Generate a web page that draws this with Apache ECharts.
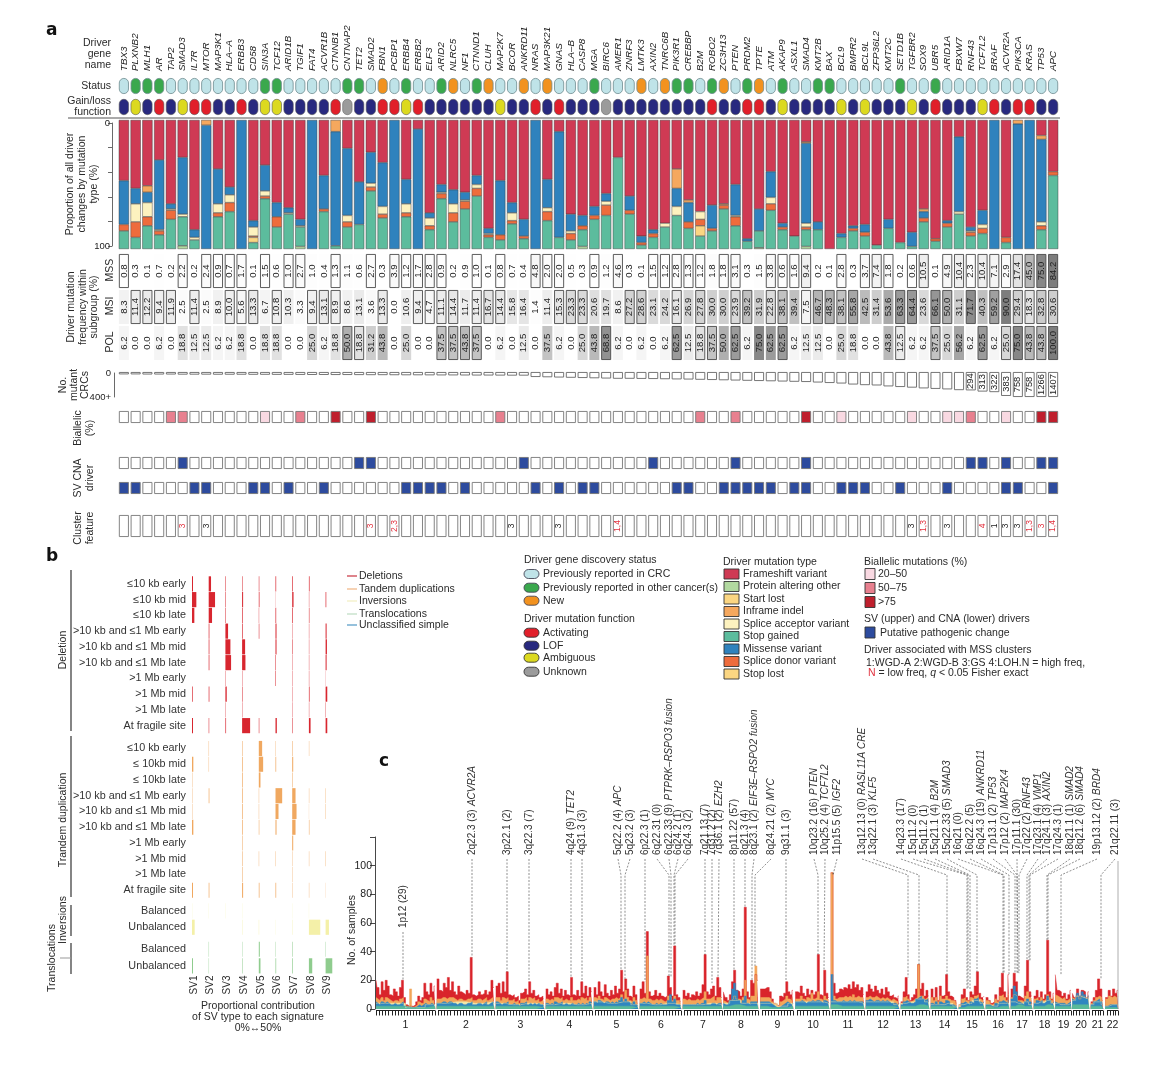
<!DOCTYPE html>
<html><head><meta charset="utf-8">
<style>html,body{margin:0;padding:0;background:#fff}#c{width:1170px;height:1066px}</style>
<script src="https://cdn.jsdelivr.net/npm/echarts@6/dist/echarts.min.js"></script>
</head><body><div id="c"></div>
<script>
/* ---------- DATA : panel a ---------- */
const genes=['TBX3','PLXNB2','MLH1','AR','TAP2','SMAD3','IL7R','MTOR','MAP3K1','HLA–A','ERBB3','CD58','SIN3A','TCF12','ARID1B','TGIF1','FAT4','ACVR1B','CTNNB1','CNTNAP2','TET2','SMAD2','FBN1','PCBP1','ERBB4','ERBB2','ELF3','ARID2','NLRC5','NF1','CTNND1','CLUH','MAP2K7','BCOR','ANKRD11','NRAS','MAP3K21','GNAS','HLA–B','CASP8','MGA','BIRC6','AMER1','ZNRF3','LMTK3','AXIN2','TNRC6B','PIK3R1','CREBBP','B2M','ROBO2','ZC3H13','PTEN','PRDM2','TPTE','ATM','AKAP9','ASXL1','SMAD4','KMT2B','BAX','BCL9','BMPR2','BCL9L','ZFP36L2','KMT2C','SETD1B','TGFBR2','SOX9','UBR5','ARID1A','FBXW7','RNF43','TCF7L2','BRAF','ACVR2A','PIK3CA','KRAS','TP53','APC'];
const statusList=['c','o','o','o','c','c','c','c','c','c','c','c','o','o','c','c','c','c','c','o','o','c','n','c','o','c','c','o','n','c','o','n','c','c','n','c','n','c','c','c','o','c','c','c','n','c','n','o','o','c','o','n','c','o','n','c','o','c','c','o','o','c','c','c','c','c','o','c','c','o','c','c','c','c','c','c','c','c','c','c'];
const functionList=['L','M','L','A','L','M','A','A','L','L','A','L','M','M','L','L','L','L','A','U','L','L','A','A','M','A','L','L','L','L','L','L','M','L','L','A','L','A','L','L','L','U','L','L','L','L','L','L','L','L','A','L','L','A','A','L','M','L','L','L','L','M','L','M','L','L','L','M','L','A','L','L','L','M','A','L','A','A','L','L'];
const frameshift=[47,53,51,31,65,29,85,0,38,52,0,78,35,64,68,77,0,43,0,22,48,25,33,0,46,7,72,50,54,56,43,84,47,64,77,0,46,9,73,74,67,57,29,59,90,85,80,38,62,71,66,65,50,92,69,40,80,90,17,79,100,88,82,81,97,77,95,87,69,92,78,13,83,70,0,91,0,0,12,40];
const inframe=[0,0,5,0,0,0,0,4,0,0,0,0,0,0,0,0,0,0,9,0,0,0,0,0,0,0,0,0,0,0,0,0,0,0,0,0,0,0,0,0,0,0,0,0,0,0,0,15,2,0,0,1,0,0,0,0,0,0,1,0,0,0,0,0,0,0,0,0,2,0,0,0,0,0,0,0,3,0,3,0];
const missense=[34,12,8,54,4,44,6,96,27,6,100,5,20,11,4,5,100,26,88.5,52,33,24,34,100,19,93,4,6,11,6,7,4,42,8,13,100,22,82,13,8,7,6,0,11,5,3,0,14,15,0,18,0,24,2,17,20,3,0,62,6,0,3,2,6,0,7,0,11,5,0,2,58,3,11,100,0,97,100,64,0];
const spliceAcceptor=[0,14,11,1,1,2,2,0,7,6,0,7,4,0,1,1,0,0,0,5,0,3,6,0,7,0,6,1,7,1,3,1,0,6,0,0,3,0,2,0,0,3,0,0,0,0,3,7,0,6,0,0,1,0,0,5,0,0,3,0,0,0,0,0,0,0,0,0,0,0,0,2,1,3,0,0,0,0,3,0];
const spliceDonor=[5,12,7,3,7,0,0,0,3,7,0,1,2,8,0,0,0,2,0,4,0,3,3,0,3,0,3,4,7,6,6,2,4,2.5,2,0,7,0,5,3,3,8,0,3,2,3,0,0,5,5,2,3,7,0,0,5,2,0,2,0,0,0,2,3,0,0,0,0,3,2,3,0,3,4,0,4,0,0,3,3];
const startLost=[0,0,0,0,0,0,0,0,0,0,0,4,0,0,0,0,0,0,0,0,0,0,0,0,0,0,0,0,0,0,0,0,0,0,0,0,0,0,0,0,0,0,0,0,0,0,0,0,0,8,0,0,0,0,0,0,0,0,0,0,0,0,0,0,0,0,0,0,0,0,0,0,0,0,0,0,0,0,0,0];
const stopGained=[14,9,18,11,23,22.5,7,0,25,29,0,5,39,17,27,15,0,29,2.5,17,19,45,24,0,25,0,15,39,21,31,41,9,7,19.5,8,0,22,9,7,13,23,26,71,27,3,9,17,26,16,10,14,31,18,6,13,30,15,10,13,15,0,9,14,10,3,16,5,2,21,6,17,27,10,12,0,5,0,0,15,57];
const proteinOther=[0,0,0,0,0,2.5,0,0,0,0,0,0,0,0,0,2,0,0,0,0,0,0,0,0,0,0,0,0,0,0,0,0,0,0,0,0,0,0,0,2,0,0,0,0,0,0,0,0,0,0,0,0,0,0,1,0,0,0,2,0,0,0,0,0,0,0,0,0,0,0,0,0,0,0,0,0,0,0,0,0];
const mss=[0.8,0.3,0.1,0.7,0.2,2.2,0.2,2.4,0.9,0.7,1.7,0.1,1.5,0.6,1.0,2.7,1.0,0.4,1.3,1.1,0.6,2.7,0.3,3.9,1.2,1.7,2.8,0.9,0.2,0.9,1.0,0.1,0.8,0.7,0.4,4.8,2.0,2.0,0.5,0.3,0.9,1.2,4.6,0.3,0.1,1.5,1.2,2.8,1.3,1.2,1.8,1.8,3.1,0.3,1.5,3.8,0.6,1.6,9.4,0.2,0.1,2.8,0.3,3.7,7.4,1.8,0.2,0.6,10.5,0.1,4.9,10.4,2.3,10.4,7.1,2.9,17.4,45.0,75.0,84.2];
const mssBoxed=[1,0,0,0,0,1,0,1,1,1,1,0,1,0,1,1,0,0,1,0,0,1,0,1,1,1,1,1,0,0,1,0,1,0,0,1,1,1,0,0,1,0,1,0,0,1,1,1,1,1,0,1,1,0,0,1,1,1,1,0,0,1,0,1,1,1,0,1,1,0,1,1,1,1,1,1,1,1,1,1];
const msi=[8.3,11.4,12.2,9.4,11.9,2.5,11.4,2.5,8.9,10.0,5.6,13.3,6.7,10.8,10.3,3.3,9.4,13.1,8.9,8.6,13.1,3.6,13.3,0.0,10.6,9.4,4.7,11.1,14.4,11.7,11.4,16.7,14.4,15.8,16.4,1.4,11.4,15.3,23.3,23.3,20.6,19.7,8.6,27.2,28.6,23.1,24.2,16.1,26.9,27.8,30.0,30.0,23.9,39.2,31.9,22.8,38.1,39.4,7.5,46.7,48.3,38.1,55.8,42.5,31.4,53.6,63.3,64.4,23.6,66.1,50.0,31.1,71.7,40.3,59.2,90.0,29.4,18.3,32.8,30.6];
const msiBoxed=[0,1,1,1,1,0,1,0,0,1,1,1,0,1,0,0,1,1,1,0,0,0,1,0,0,1,1,1,1,0,1,1,1,0,0,0,0,1,1,1,0,0,0,1,1,0,0,1,0,1,0,0,1,1,0,1,1,0,1,1,1,1,1,0,0,0,1,1,0,1,1,0,1,0,1,0,1,1,1,1];
const pol=[6.2,0,0,6.2,0,18.8,12.5,12.5,6.2,6.2,18.8,0,18.8,18.8,0,0,25.0,6.2,18.8,50.0,18.8,31.2,43.8,0,25.0,0,0,37.5,37.5,43.8,37.5,0,6.2,0,12.5,0,37.5,6.2,0,25.0,43.8,68.8,6.2,0,6.2,0,6.2,62.5,12.5,18.8,37.5,50.0,62.5,6.2,75.0,62.5,62.5,6.2,12.5,12.5,0,25.0,18.8,0,0,43.8,12.5,6.2,6.2,37.5,25.0,56.2,6.2,62.5,6.2,25.0,75.0,43.8,43.8,100.0];
const polBoxed=[0,0,0,0,0,0,0,0,0,0,0,0,0,0,0,0,0,0,0,1,1,0,0,0,0,0,0,1,1,1,1,0,0,0,0,0,0,0,0,0,0,1,0,0,0,0,0,1,0,1,1,0,1,0,0,0,1,0,0,0,0,0,0,0,0,0,1,0,0,1,0,0,0,1,0,1,1,1,1,1];
const mutantCounts=[38,38,40,40,40,42,42,42,43,43,43,44,44,45,45,46,47,47,48,48,49,50,50,51,52,52,53,54,54,55,56,56,57,58,58,80,84,88,92,96,100,104,108,108,110,112,115,118,120,124,128,132,136,140,144,148,152,156,160,168,176,184,200,210,215,230,240,250,262,270,278,290,294,313,322,383,758,758,1266,1407];
const mutantLabelled=8;
const biallelicLight=[13,62,68,71,72,76], biallelicMid=[5,6,16,33,50,53,73], biallelicDark=[19,22,59,79,80];
const svDrivers=[6,21,22,35,46,53,59,73,74,76,79,80];
const cnaDrivers=[1,2,7,8,12,13,15,18,25,26,27,28,30,36,38,40,41,48,49,52,53,54,55,56,58,59,62,63,64,67,71,76,77,80];
const clusterIndex=[6,8,22,24,34,38,43,68,69,71,74,75,76,77,78,79,80];
const clusterText=['3','3','3','2,3','3','3','1,4','3','1,3','3','4','1','3','3','1,3','3','1,4'];
const clusterLowFreq=[1,0,1,1,0,0,1,0,1,0,1,0,0,0,1,1,1];
/* ---------- DATA : panel b ---------- */
const svNames=['SV1','SV2','SV3','SV4','SV5','SV6','SV7','SV8','SV9'];
const rowLabels=['≤10 kb early','≤10 kb mid','≤10 kb late','>10 kb and ≤1 Mb early','>10 kb and ≤1 Mb mid','>10 kb and ≤1 Mb late','>1 Mb early','>1 Mb mid','>1 Mb late','At fragile site','≤10 kb early','≤ 10kb mid','≤ 10kb late','>10 kb and ≤1 Mb early','>10 kb and ≤1 Mb mid','>10 kb and ≤1 Mb late','>1 Mb early','>1 Mb mid','>1 Mb late','At fragile site','Balanced','Unbalanced','Balanced','Unbalanced'];
const rowCentres=[0,1,2,3,4,5,6,7,8,9,10.45,11.45,12.45,13.45,14.45,15.45,16.45,17.45,18.45,19.45,20.76,21.8,23.2,24.25];
const svDeletion=[[3,7,1.5,1.5,1.5,2,2,2,0],[13,19,1.5,3,2,0.5,4,1,2],[7,10,1.5,2,1,2,2,1.5,0],[0,2,8,2,1.5,3,1,1,3],[0,2,15,9,0,3,1.5,1,4],[0,2,17,10,0,1.5,1,1,3],[0,0,1,1,0,1.5,1,1,0.5],[2,2,4,1.5,0,0,1,2,5],[0,0,1,1,0,0,1,1,1],[3,1.5,2,24,1.5,4,1.5,5,5]];
const svTandem=[[0,1,0,1.5,10,1,1.5,1,0],[4,1,0,2,13,2,3,0,0],[1,0,0,2,5,0,1.5,0,0],[1,2,0,2,1,20,10,1,1],[1,0,0,2,1,9,13,0.5,1],[4,0,0,2,1.5,3,10,1.5,0],[0,0,0,1.5,0,0,3,0,0],[0,0,0,1.5,1,1,1,1,1],[0,0,0,1.5,0,0,1,0,0],[3,2,0,3,2,2,1,1,0.5]];
const svInversion=[[0.5,0.5,0.5,0.5,0,0,0.5,0.5,0],[8,0,0,1,1,0.5,1,34,10]];
const svTranslocation=[[0,1,0,1,3,1,1.5,0,1],[3,1,0,1.5,5,2,2,10,20]];
/* ---------- DATA : panel c ---------- */
const chromNames=['1','2','3','4','5','6','7','8','9','10','11','12','13','14','15','16','17','18','19','20','21','22'];
const chromStart=[1,63,122,172,220,266,309,349,387,422,457,492,527,557,585,612,637,660,681,698,717,732];
const chromEnd=[60,119,169,217,263,306,347,383,418,454,489,524,554,582,609,634,657,679,696,714,728,743];
const chromTicks=[19,18,15,14,14,13,12,11,10,10,10,10,8,8,8,7,6,6,5,5,4,4];
const deletionTops=[[20,15,10,19,13,20,16,10,9,14,12,9,15,20,8,3,2,2,2,3,5,9,6,8,18,12,10,18,12,16],[21,13,12,18,15,22,13,19,12,10,16,12,11,10,13,11,36,10,9,10,12,10,11,13,10,12,20,15],[16,18,11,19,12,26,10,9,10,8,9,6,11,12,14,10,19,11,13,9,10,8,9,7],[14,10,12,9,15,18,11,14,9,13,10,9,22,10,9,13,9,19,11,16,9,15,12],[15,10,19,12,9,17,11,9,13,10,16,11,14,27,12,21,14,9,8,16,10,4],[14,19,11,54,12,9,10,13,9,11,9,8,9,23,15,9,44,10,8,5],[13,9,11,8,10,9,12,9,11,17,38,12,10,14,16,9,22,15,8],[12,8,6,10,19,27,13,12,9,14,71,12,8,20,18,24,20],[14,14,15,15,12,7,4,3,2,9,8,11,19,12,10,13],[12,11,16,11,9,14,10,13,10,12,38,10,9,27,11,8],[95,18,11,12,14,13,15,14,17,14,19,15,17,13,15,10],[12,17,14,12,16,13,11,14,10,15,12,9,10,8,7,9],[5,12,22,10,6,8,10,14,31,14,18,9,13,9],[14,8,15,6,16,9,10,24,12,9,8,6,4],[3,10,14,8,6,12,10,16,26,11,8,9],[8,6,4,5,10,6,15,25,12,8,24],[14,25,19,9,8,7,16,34,12,9],[9,13,8,12,7,10,48,12,7,11],[24,13,12,9,11,7,10,13],[11,8,14,9,13,12,8,12],[5,8,13,21,14,6],[8,13,9,14,11,13]];
const tandemTops=[[8,7,6,8,6,8,7,6,5,6,6,5,7,8,4,2,1,14,1,2,3,5,4,4,7,6,5,8,6,7],[7,7,8,8,7,8,8,8,7,6,7,7,6,6,7,7,8,6,6,7,7,6,7,8,6,7,8,8],[8,8,6,8,7,8,6,6,7,5,6,4,7,7,8,6,8,7,8,6,7,5,6,5],[7,6,7,6,8,8,7,8,6,7,6,6,8,6,6,7,6,8,7,8,6,8,7],[8,7,9,7,6,8,7,6,7,7,8,7,8,10,7,13,8,6,5,8,6,3],[7,8,7,37,7,6,6,7,6,7,6,5,6,9,8,6,9,6,6,4],[7,6,7,6,6,6,7,6,7,8,12,7,7,8,9,6,8,8,6],[6,5,4,6,7,9,7,7,6,8,20,7,6,9,9,30,9],[8,8,8,8,7,5,3,2,2,5,6,7,9,7,6,8],[7,7,9,7,6,8,7,11,7,8,12,7,6,9,7,6],[95,9,7,8,8,8,9,8,9,8,10,8,9,8,8,7],[8,9,8,8,9,8,7,8,7,8,7,6,7,6,5,6],[4,8,9,7,5,6,7,8,31,9,9,7,8,7],[8,6,8,5,9,7,7,9,7,6,6,5,3],[2,7,8,6,5,8,7,9,10,7,6,7],[6,5,3,4,7,5,9,10,8,6,10],[8,10,9,6,6,5,9,12,8,7],[7,8,6,8,6,7,10,8,6,8],[10,9,8,7,8,6,7,8],[8,7,9,7,9,8,7,9],[4,6,8,9,8,5],[7,9,8,9,8,9]];
const inversionTops=[[4,4,1,3],[4,5,4,5],[4,3,4,3],[3,4,3,4],[5,4,5,3],[4,3,4,3],[3,3,4,3],[4,6,4,4],[4,4,2,4],[5,5,5,4],[5,5,5,4],[5,5,5,3],[4,5,7,5],[3,3,4,2],[3,4,6,4],[3,2,4,4],[5,4,5,3],[4,5,6,4],[4,3,3,4],[6,9,8,7],[3,5,5,3],[2,3,3,3]];
const unclassifiedTops=[[5,4,3,5,4,5,4,3,3,4,3,3,4,5,2,1,1,1,1,1,2,3,2,3,4,3,3,4,3,4],[4,4,5,5,4,5,5,4,4,3,4,4,3,3,4,4,5,3,3,4,4,3,4,5,3,4,5,4],[5,4,3,4,4,5,3,3,4,3,3,2,4,4,5,3,4,3,4,3,4,3,3,2],[4,3,4,3,5,4,4,5,3,4,3,3,4,3,3,4,3,4,3,4,3,5,4],[5,4,6,5,4,5,5,4,5,4,5,4,6,8,5,7,5,4,3,5,3,2],[4,5,4,5,4,3,3,4,3,4,3,3,3,6,10,5,7,3,3,2],[3,3,3,3,3,3,4,3,4,4,6,3,3,4,4,3,4,4,3],[4,3,3,6,14,18,13,6,4,6,9,4,3,5,5,5,5],[5,5,5,5,4,3,2,1,1,2,3,4,5,4,3,4],[5,5,6,5,4,5,5,6,5,6,6,5,4,6,5,4],[24,6,5,5,5,6,5,5,6,5,6,5,5,5,5,4],[6,7,6,5,6,6,5,6,5,6,5,4,4,4,3,4],[3,5,6,5,4,4,5,7,8,9,7,6,7,5],[4,3,5,3,5,4,4,6,5,3,3,2,2],[1,4,5,4,3,5,4,7,8,5,4,5],[3,3,2,2,4,3,5,6,5,4,6],[7,16,12,5,4,3,5,7,5,4],[4,6,5,6,4,5,9,6,4,5],[5,4,4,4,4,3,4,5],[7,6,11,9,12,10,7,9],[3,5,6,7,5,3],[2,3,3,3,3,3]];
const translocationTops=[[2,2,1,2],[2,2,2,2],[2,2,2,1],[2,2,2,2],[2,2,2,1],[2,2,2,1],[2,2,2,2],[2,3,2,2],[2,1,1,2],[2,2,2,2],[3,2,2,2],[2,2,2,1],[2,2,3,2],[2,2,2,1],[1,2,2,2],[2,1,2,2],[2,3,2,2],[2,2,3,2],[2,2,2,2],[3,3,3,3],[2,2,2,1],[1,1,1,1]];
const peakNames=['1p12 (29)','2q22.3 (3)','3p22.1 (2)','3q22.3 (7)','4q24 (9)','4q31.3 (3)','5q22.2 (4)','5q23.2 (3)','6p22.3 (1)','6q22.31 (0)','6q22.33 (9)','6q24.2 (1)','6q24.3 (2)','7q21.13 (7)','7q31.2 (2)','7q36.1 (2)','8p11.22 (57)','8q21.3 (4)','8q23.1 (2)','8q24.21 (2)','9q31.1 (3)','10q23.2 (16)','10q25.2 (4)','11p15.5 (5)','13q12.13 (0)','13q22.1 (3)','14q23.3 (17)','15q11.2 (0)','15q11.2 (1)','15q21.1 (4)','15q22.33 (5)','16q21 (0)','16q22.2 (5)','16q24.3 (19)','17p13.1 (2)','17p12 (2)','17p11.1 (30)','17q22 (2)','17q23.1 (4)','17q24.1 (3)','17q24.3 (1)','18q21.1 (1)','18q21.2 (6)','19p13.12 (2)','21q22.11 (3)'];
const peakGenes=['','ACVR2A','','','TET2','','APC','','','','PTPRK–RSPO3 fusion','','','','','EZH2','','','EIF3E–RSPO2 fusion','MYC','','PTEN','TCF7L2','IGF2','RASL11A CRE','KLF5','','','','B2M','SMAD3','','','ANKRD11','TP53','MAP2K4','','RNF43','VMP1','AXIN2','','SMAD2','SMAD4','BRD4',''];
const peakGenomePos=[28,97,132,154,196,207,246,250,270,294,296,299,300,330,337,343,359,370,377,380,411,443,449,458,533,544,572,592,593,595,602,628,629,634,640,642,643,644,652,654,655,672,673,686,726];
const peakHeight=[20,36,26,19,22,19,27,21,19,22,22,44,44,38,18,22,27,71,20,30,19,38,27,95,22,31,24,14,14,14,26,25,25,24,25,25,25,25,34,34,34,48,48,24,21];
/* ---------- LAYOUT (not data) ---------- */
const peakLabelPx=[403,472,507,529,571,582,618,630,645,657,669,678,688,705,712,719,734,745,754,771,786,814,825,837,862,873,901,913,924,935,947,958,970,981,993,1005,1017,1027,1038,1047,1058,1070,1080,1097,1115];
const FF='"Liberation Sans",Arial,sans-serif';
const C={frameshift:'#cf3a54',inframe:'#f5a85e',missense:'#2f82bd',acceptor:'#fdf2bf',donor:'#ee6c3c',start:'#fbd682',gained:'#5cbc9d',other:'#b2d9a0',
 stat:{c:'#bfe3e8',o:'#3aa84d',n:'#f2921f'},fn:{A:'#e11f2a',L:'#28297f',M:'#dcd91f',U:'#9b9b9b'},
 bi:['#fff','#f9d9e2','#e8808f','#bf1f2d'],blue:'#2d4b9e'};
const grids=[],xAxes=[],yAxes=[],series=[];
const X0=118,W=941;
function addGrid(g,x,y){const i=grids.length;grids.push(g);xAxes.push(Object.assign({gridIndex:i},x));yAxes.push(Object.assign({gridIndex:i},y));return i;}
function barRow(top,h,items,extra){
  const gi=addGrid({left:X0,top,width:W,height:h},Object.assign({type:'category',data:genes,show:false},extra&&extra.x||{}),{type:'value',min:0,max:1,show:false});
  series.push({type:'bar',xAxisIndex:gi,yAxisIndex:gi,barWidth:10,silent:true,data:items,animation:false});
}
const gray=v=>{const g=Math.max(125,Math.round(255-1.6*v));return `rgb(${g},${g},${g})`;};
/* status & function pills */
barRow(78,16,statusList.map(s=>({value:1,itemStyle:{color:C.stat[s],borderColor:'#6f8c8f',borderWidth:0.8,borderRadius:5}})),
 {x:{show:true,position:'top',axisLine:{show:false},axisTick:{show:false},axisLabel:{interval:0,rotate:90,margin:7,fontStyle:'italic',fontSize:9.8,color:'#222',fontFamily:FF}}});
barRow(99,16,functionList.map(s=>({value:1,itemStyle:{color:C.fn[s],borderColor:s==='U'?'#666':'#555',borderWidth:0.6,borderRadius:5}})));
/* stacked bars */
const gS=addGrid({left:X0,top:120,width:W,height:129},{type:'category',data:genes,show:false},{type:'value',min:0,max:100,inverse:true,show:false});
[['Frameshift variant',frameshift,C.frameshift],['Inframe indel',inframe,C.inframe],['Missense variant',missense,C.missense],['Splice acceptor variant',spliceAcceptor,C.acceptor],['Splice donor variant',spliceDonor,C.donor],['Start lost',startLost,C.start],['Stop gained',stopGained,C.gained],['Protein altering other',proteinOther,C.other]].forEach(([n,d,c])=>{
 series.push({name:n,type:'bar',stack:'mut',xAxisIndex:gS,yAxisIndex:gS,barWidth:10.2,silent:true,animation:false,data:d.map(v=>v||null),itemStyle:{color:c,borderColor:'#3a3a3a',borderWidth:0.45}});
});
/* axis only for stacked bars */
addGrid({left:112,top:123,width:1,height:123},{type:'value',show:false,min:0,max:1},{type:'value',min:0,max:100,interval:20,inverse:true,axisLine:{show:true,lineStyle:{color:'#444',width:0.8}},axisTick:{show:true,length:4,lineStyle:{color:'#444',width:0.8}},splitLine:{show:false},axisLabel:{fontSize:9.5,color:'#222',margin:2,fontFamily:FF,formatter:v=>(v===0||v===100)?String(v):''}});
/* frequency rows */
function freqRow(top,h,vals,boxed){
 barRow(top,h,vals.map((v,i)=>({value:1,itemStyle:{color:gray(v),borderColor:boxed[i]?'#4a4a4a':'transparent',borderWidth:boxed[i]?0.9:0},
  label:{show:true,position:'inside',rotate:90,formatter:v.toFixed(1),fontSize:9.6,color:'#222',fontFamily:FF}})));
}
freqRow(254,34,mss,mssBoxed);
freqRow(290,34,msi,msiBoxed);
freqRow(326,34,pol,polBoxed);
/* mutant counts */
const gM=addGrid({left:X0,top:372,width:W,height:25},{type:'category',data:genes,show:false},{type:'value',min:0,max:400,inverse:true,show:false});
series.push({type:'bar',xAxisIndex:gM,yAxisIndex:gM,barWidth:10,silent:true,animation:false,
 data:mutantCounts.map((v,i)=>({value:Math.min(v,400),itemStyle:{color:'#fff',borderColor:'#666',borderWidth:0.9},
  label:{show:i>=mutantCounts.length-mutantLabelled,position:'inside',rotate:90,formatter:String(v),fontSize:9.4,color:'#222',fontFamily:FF}}))});
addGrid({left:114,top:373,width:1,height:24},{type:'value',show:false,min:0,max:1},{type:'value',min:0,max:400,interval:400,inverse:true,axisLine:{show:true,lineStyle:{color:'#444',width:0.8}},axisTick:{show:false},splitLine:{show:false},axisLabel:{fontSize:9.5,color:'#222',margin:3,fontFamily:FF,formatter:v=>v===0?'0':'400+'}});
/* biallelic, SV, CNA, cluster */
const cell=(fill)=>({value:1,itemStyle:{color:fill,borderColor:'#777',borderWidth:0.9}});
barRow(411,12,genes.map((g,i)=>{const k=i+1;return cell(biallelicDark.includes(k)?C.bi[3]:biallelicMid.includes(k)?C.bi[2]:biallelicLight.includes(k)?C.bi[1]:C.bi[0]);}));
barRow(457,12,genes.map((g,i)=>cell(svDrivers.includes(i+1)?C.blue:'#fff')));
barRow(482,12,genes.map((g,i)=>cell(cnaDrivers.includes(i+1)?C.blue:'#fff')));
barRow(515,22,genes.map((g,i)=>{const j=clusterIndex.indexOf(i+1);const o=cell('#fff');
 if(j>=0)o.label={show:true,position:'inside',rotate:90,formatter:clusterText[j],fontSize:8.5,color:clusterLowFreq[j]?'#e2323f':'#222',fontFamily:FF};return o;}));

/* ---------- panel b ---------- */
const gB=addGrid({left:192,top:576,width:150.3,height:398.5},{type:'value',min:0,max:450,show:false},{type:'value',min:-0.5,max:24.8,inverse:true,show:false});
const bColors=['#d8262f','#f0a860','#f4f0a8','#8fcc8e'];
const bData=[];
[svDeletion,svTandem,svInversion,svTranslocation].reduce((offset,m,g)=>{m.forEach((row,r)=>row.forEach((v,s)=>{if(v>0)bData.push([s*50,rowCentres[offset+r],v,g]);}));return offset+m.length;},0);
series.push({type:'custom',xAxisIndex:gB,yAxisIndex:gB,silent:true,animation:false,data:bData,encode:{x:0,y:1},clip:false,
 renderItem:(p,api)=>{const c=api.coord([api.value(0),api.value(1)]);const s=api.size([api.value(2),1]);
  return {type:'rect',shape:{x:c[0],y:c[1]-s[1]/2+0.3,width:s[0],height:s[1]-0.6},style:{fill:bColors[api.value(3)]}};}});
series.push({type:'custom',xAxisIndex:gB,yAxisIndex:gB,silent:true,animation:false,data:rowLabels.map((l,i)=>[0,rowCentres[i]]),encode:{x:0,y:1},clip:false,
 renderItem:(p,api)=>{const c=api.coord([0,api.value(1)]);
  return {type:'text',x:c[0]-6,y:c[1],style:{text:rowLabels[p.dataIndex],align:'right',verticalAlign:'middle',textAlign:'right',textVerticalAlign:'middle',font:`10.8px ${FF}`,fill:'#333'}};}});

/* ---------- panel c ---------- */
const gC=addGrid({left:375,top:837,width:743,height:172},{type:'value',min:0,max:743,show:false},{type:'value',min:0,max:120,interval:20,axisLine:{show:true,lineStyle:{color:'#333',width:0.9}},axisTick:{show:true,length:5,lineStyle:{color:'#333',width:0.9}},splitLine:{show:false},axisLabel:{fontSize:10.5,color:'#222',margin:3,fontFamily:FF,formatter:v=>v===120?'':String(v)}});
function genomePoints(tops){const pts=[];tops.forEach((arr,c)=>{const a=chromStart[c],b=chromEnd[c];arr.forEach((v,i)=>pts.push([a+(b-a)*i/(arr.length-1),v]));pts.push([b+0.5,null]);});return pts;}
[['Deletions',deletionTops,'#d9242b'],['Tandem duplications',tandemTops,'#f2a65a'],['Inversions',inversionTops,'#f3e7a8'],['Unclassified simple',unclassifiedTops,'#2f86c0'],['Translocations',translocationTops,'#58b99a']].forEach(([n,d,c])=>{
 series.push({name:n,type:'line',xAxisIndex:gC,yAxisIndex:gC,silent:true,animation:false,step:'middle',showSymbol:false,connectNulls:false,data:genomePoints(d),lineStyle:{color:c,width:0.5},itemStyle:{color:c},areaStyle:{color:c,opacity:1}});
});
/* chromosome axis */
series.push({type:'custom',xAxisIndex:gC,yAxisIndex:gC,silent:true,animation:false,clip:false,data:chromNames.map((n,i)=>[chromStart[i],chromEnd[i],chromTicks[i]]),encode:{x:[0,1]},
 renderItem:(p,api)=>{const a=api.coord([api.value(0),0]),b=api.coord([api.value(1),0]),n=api.value(2),ch=[];
  const st={stroke:'#222',lineWidth:1};
  const y0=Math.round(a[1])+1.5;
  ch.push({type:'line',shape:{x1:a[0],y1:y0,x2:b[0],y2:y0},style:st});
  for(let i=0;i<=n;i++){const x=Math.round(a[0]+(b[0]-a[0])*i/n)+0.5;ch.push({type:'line',shape:{x1:x,y1:y0,x2:x,y2:y0+5},style:st});}
  ch.push({type:'text',x:(a[0]+b[0])/2,y:a[1]+16,style:{text:chromNames[p.dataIndex],align:'center',verticalAlign:'middle',textAlign:'center',textVerticalAlign:'middle',font:`10.5px ${FF}`,fill:'#222'}});
  return {type:'group',children:ch};}});
/* peak leaders and labels */
series.push({type:'custom',xAxisIndex:gC,yAxisIndex:gC,silent:true,animation:false,clip:false,z:5,data:peakNames.map((n,i)=>[peakGenomePos[i],peakHeight[i]]),encode:{x:0,y:1},
 renderItem:(p,api)=>{const i=p.dataIndex,t=api.coord([api.value(0),api.value(1)]),lx=peakLabelPx[i];
  const base=i===0?928:855,start=base+4,bend=875;
  const pts=Math.abs(lx-t[0])<1.5?[[lx,start],[t[0],t[1]]]:[[lx,start],[t[0],Math.max(bend,start)],[t[0],t[1]]];
  const txt=peakGenes[i]?`{n|${peakNames[i]}} {g|${peakGenes[i]}}`:`{n|${peakNames[i]}}`;
  return {type:'group',children:[
   {type:'polyline',shape:{points:pts},style:{stroke:'#444',lineWidth:0.6,lineDash:[2,1.5],fill:'none'}},
   {type:'text',x:lx,y:base,rotation:Math.PI/2,style:{text:txt,align:'left',verticalAlign:'middle',textAlign:'left',textVerticalAlign:'middle',
     rich:{n:{fontSize:10,fontFamily:FF,fill:'#333'},g:{fontSize:10,fontFamily:FF,fontStyle:'italic',fill:'#333'}}}}]};}});

/* ---------- static text and legends ---------- */
const G=[];
const T=(x,y,text,o={})=>G.push({type:'text',x,y,rotation:o.rot?Math.PI/2:0,silent:true,z:20,style:{text,x:0,y:0,fill:o.c||'#2a2a2a',font:`${o.i?'italic ':''}${o.b?'900 ':''}${o.s||10.5}px ${o.ff||FF}`,align:o.a||'left',textAlign:o.a||'left',verticalAlign:'middle',textVerticalAlign:'middle',rich:o.rich}});
const L=(x1,y1,x2,y2,c,w)=>G.push({type:'line',silent:true,z:20,shape:{x1,y1,x2,y2},style:{stroke:c,lineWidth:w}});
const R=(x,y,w,h,fill,stroke,r,lw)=>G.push({type:'rect',silent:true,z:20,shape:{x,y,width:w,height:h,r:r||0},style:{fill,stroke:stroke||'#333',lineWidth:lw===undefined?0.9:lw}});
T(46,31,'a',{b:1,s:17,ff:'"DejaVu Sans",'+FF,c:'#111',a:'left'});
T(46,557,'b',{b:1,s:17,ff:'"DejaVu Sans",'+FF,c:'#111'});
T(379,762,'c',{b:1,s:17,ff:'"DejaVu Sans",'+FF,c:'#111'});
T(111,43,'Driver',{a:'right'});T(111,54,'gene',{a:'right'});T(111,65,'name',{a:'right'});
T(111,86,'Status',{a:'right'});T(111,101,'Gain/loss',{a:'right'});T(111,112,'function',{a:'right'});
L(68,118,1060,118,'#555',1);
[['Proportion of all driver',70],['changes by mutation',82],['type (%)',94]].forEach(([t,x])=>T(x,184,t,{rot:1,a:'center'}));
T(110,270,'MSS',{rot:1,a:'center'});T(110,306,'MSI',{rot:1,a:'center'});T(110,342,'POL',{rot:1,a:'center'});
[['Driver mutation',71],['frequency within',83],['subgroup (%)',94]].forEach(([t,x])=>T(x,307,t,{rot:1,a:'center'}));
[['No.',63],['mutant',74],['CRCs',85]].forEach(([t,x])=>T(x,385,t,{rot:1,a:'center'}));
T(78,428,'Biallelic',{rot:1,a:'center'});T(90,428,'(%)',{rot:1,a:'center'});
T(78,478,'SV CNA',{rot:1,a:'center'});T(90,478,'driver',{rot:1,a:'center'});
T(78,528,'Cluster',{rot:1,a:'center'});T(90,528,'feature',{rot:1,a:'center'});
/* panel b furniture */
L(71,570,71,731,'#666',1.6);L(71,736,71,897,'#666',1.6);L(71,905,71,936,'#666',1.6);L(71,943,71,974,'#666',1.6);L(60,958,71,958,'#999',1);
T(63,650,'Deletion',{rot:1,a:'center'});T(63,820,'Trandem duplication',{rot:1,a:'center'});T(63,920,'Inversions',{rot:1,a:'center'});T(52,958,'Translocations',{rot:1,a:'center'});
svNames.forEach((n,i)=>T(194+i*16.7,985,n,{rot:1,a:'center',s:10}));
T(258,1006,'Proportional contribution',{a:'center'});T(258,1017,'of SV type to each signature',{a:'center'});T(258,1028,'0%↔50%',{a:'center'});
[['Deletions','#c8323f',576],['Tandem duplications','#f0b482',589],['Inversions','#f2eec2',601],['Translocations','#bcdcc2',614],['Unclassified simple','#4f97c4',625]].forEach(([t,c,y])=>{L(347,y,357,y,c,1.2);T(359,y,t);});
T(352,930,'No. of samples',{rot:1,a:'center'});
L(1118,861,1118,1009,'#999',0.8);
/* legends */
T(524,560,'Driver gene discovery status');
[['Previously reported in CRC',C.stat.c,574],['Previously reported in other cancer(s)',C.stat.o,587.7],['New',C.stat.n,600.7]].forEach(([t,c,y])=>{R(524,y-4.5,15,9,c,'#445',4.5);T(543,y,t);});
T(524,619,'Driver mutation function');
[['Activating',C.fn.A,632.7],['LOF',C.fn.L,645.7],['Ambiguous',C.fn.M,657.7],['Unknown',C.fn.U,671.7]].forEach(([t,c,y])=>{R(524,y-4.5,15,9,c,'#333',4.5);T(543,y,t);});
T(723,562,'Driver mutation type');
[['Frameshift variant',C.frameshift],['Protein altering other',C.other],['Start lost',C.start],['Inframe indel',C.inframe],['Splice acceptor variant',C.acceptor],['Stop gained',C.gained],['Missense variant',C.missense],['Splice donor variant',C.donor],['Stop lost',C.start]].forEach(([t,c],i)=>{const y=574+i*12.5;R(724,y-5,15,10,c,'#333',0);T(743,y,t);});
T(864,562,'Biallelic mutations (%)');
[['20–50',C.bi[1],574],['50–75',C.bi[2],588],['>75',C.bi[3],602]].forEach(([t,c,y])=>{R(865,y-5.5,10,11,c,'#333',0);T(878,y,t);});
T(864,619,'SV (upper) and CNA (lower) drivers');
R(865,627,10,11,C.blue,'#333',0);T(880,632.7,'Putative pathogenic change');
T(864,650,'Driver associated with MSS clusters');
T(866,662.7,'1:WGD-A 2:WGD-B 3:GS 4:LOH.N = high freq,');
T(868,672.7,'{r|N}{d| = low freq, }{i|q}{d| < 0.05 Fisher exact}',{rich:{r:{fill:'#e2323f',fontSize:10.5,fontFamily:FF},d:{fill:'#2a2a2a',fontSize:10.5,fontFamily:FF},i:{fill:'#2a2a2a',fontSize:10.5,fontFamily:FF,fontStyle:'italic'}}});

const chart=echarts.init(document.getElementById('c'),null,{renderer:'canvas'});
chart.setOption({animation:false,backgroundColor:'#fff',textStyle:{fontFamily:FF},grid:grids,xAxis:xAxes,yAxis:yAxes,series,graphic:{elements:G}});
</script></body></html>
